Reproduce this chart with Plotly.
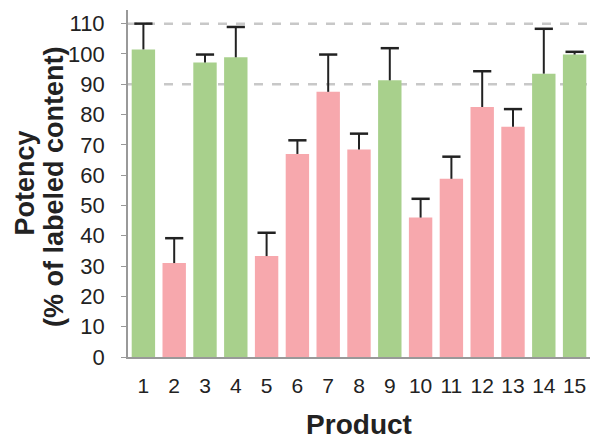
import plotly.graph_objects as go

# Data
products = [str(i) for i in range(1, 16)]
potency = [101.5, 31, 97.2, 98.9, 33.3, 67, 87.5, 68.5, 91.3, 46, 58.8, 82.5, 76, 93.5, 99.8]
error_up = [8.5, 8.2, 2.6, 10, 7.7, 4.5, 12.3, 5.2, 10.6, 6.2, 7.3, 11.8, 5.8, 14.8, 0.9]
passes = [True, False, True, True, False, False, False, False, True, False, False, False, False, True, True]
limits = [90, 110]

green = "#a8d08c"
pink = "#f7a8ad"
bar_colors = [green if p else pink for p in passes]
err_color = "#222222"

fig = go.Figure()

fig.add_trace(go.Bar(
    x=products,
    y=potency,
    width=0.76,
    marker=dict(color=bar_colors, line=dict(width=0)),
    error_y=dict(
        type="data",
        symmetric=False,
        array=error_up,
        arrayminus=[0] * len(error_up),
        color=err_color,
        thickness=2,
        width=0,
    ),
    showlegend=False,
))

# Caps only at the top of each error bar
fig.add_trace(go.Scatter(
    x=products,
    y=[v + e for v, e in zip(potency, error_up)],
    mode="markers",
    marker=dict(symbol="line-ew-open", size=13, color=err_color,
                line=dict(color=err_color, width=2.5)),
    showlegend=False,
    hoverinfo="skip",
))

# Acceptance limits
for lim in limits:
    fig.add_hline(y=lim, line_dash="dash", line_color="#c8c8c8", line_width=2.5, layer="below")

# y-axis title, two lines placed by hand
title_font = dict(size=27, family="Arial, Liberation Sans, sans-serif", color="#222222")
fig.add_annotation(text="<b>Potency</b>", xref="paper", yref="paper", x=-0.225, y=0.5,
                   textangle=-90, showarrow=False, font=title_font, xanchor="center", yanchor="middle")
fig.add_annotation(text="<b>(% of labeled content)</b>", xref="paper", yref="paper", x=-0.16, y=0.49,
                   textangle=-90, showarrow=False, font=title_font, xanchor="center", yanchor="middle")

# page body adds an 8px offset, so the figure is a little smaller than the window
fig.update_layout(
    width=592,
    height=435,
    margin=dict(l=120, r=10, t=2, b=86),
    paper_bgcolor="white",
    plot_bgcolor="white",
    font=dict(family="Arial, Liberation Sans, sans-serif", color="#222222"),
    xaxis=dict(
        automargin=False,
        showline=True,
        linecolor="#999999",
        linewidth=1.5,
        ticks="outside",
        ticklen=9,
        tickcolor="rgba(0,0,0,0)",
        tickfont=dict(size=21),
        range=[-0.5, 14.5],
        title=dict(text="<b>Product</b>", font=dict(size=28), standoff=18),
    ),
    yaxis=dict(
        automargin=False,
        range=[0, 114.5],
        tick0=0,
        dtick=10,
        showline=True,
        linecolor="#999999",
        linewidth=1.5,
        ticks="outside",
        ticklen=5,
        tickcolor="#999999",
        ticksuffix="\u00a0\u00a0",
        tickfont=dict(size=22),
        showgrid=False,
        zeroline=False,
    ),
)

fig.write_html("out.html")
